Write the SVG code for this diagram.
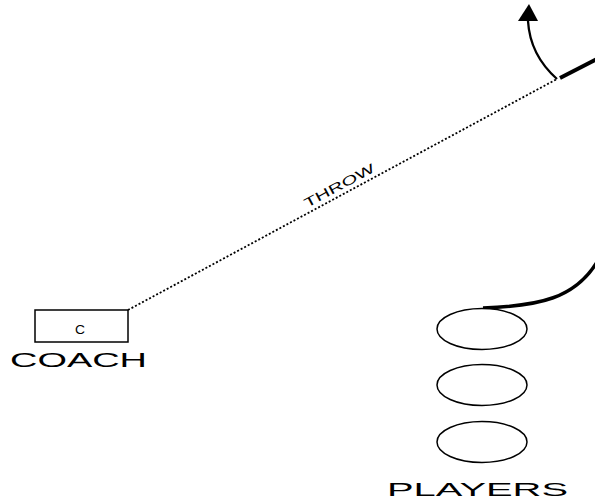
<svg xmlns="http://www.w3.org/2000/svg" width="595" height="499" viewBox="0 0 595 499">
<style>
  .shape { fill: #fff; stroke: #000; stroke-width: 1.5; }
  .lbl { font-family: "Liberation Sans", Arial, sans-serif; fill: #000; }
  .dot { fill: none; stroke: #000; stroke-width: 1.8; stroke-dasharray: 2 2; }
  .thick { fill: none; stroke: #000; stroke-width: 4; stroke-linecap: butt; }
  .run { fill: none; stroke: #000; stroke-width: 2.3; }
</style>
<rect width="595" height="499" fill="#fff"/>
<g id="connectors">
  <line class="dot" x1="128" y1="310" x2="557" y2="79"/>
  <line class="thick" x1="560" y1="78" x2="597" y2="59"/>
  <path class="run" d="M557,79 Q530,55 528,21"/>
  <polygon points="529,4 518,21 538,21" fill="#000"/>
  <path class="thick" style="stroke-width:3.5" d="M483,308 C540,306 575,298 597,262"/>
  <g transform="translate(307,208) rotate(-28.2)">
    <text class="lbl" x="0" y="0" font-size="13" textLength="78" lengthAdjust="spacingAndGlyphs">THROW</text>
  </g>
</g>
<g id="coach">
  <rect class="shape" x="35" y="310" width="93" height="32"/>
  <text class="lbl" x="80" y="334" font-size="12" text-anchor="middle" textLength="10" lengthAdjust="spacingAndGlyphs">C</text>
  <text class="lbl" x="10" y="367" font-size="19.5" textLength="137" lengthAdjust="spacingAndGlyphs">COACH</text>
</g>
<g id="players">
  <ellipse class="shape" cx="482" cy="329" rx="45" ry="20.5"/>
  <ellipse class="shape" cx="482" cy="385" rx="45" ry="20.5"/>
  <ellipse class="shape" cx="482" cy="442" rx="45" ry="20.5"/>
  <text class="lbl" x="387" y="496" font-size="18" textLength="181" lengthAdjust="spacingAndGlyphs">PLAYERS</text>
</g>
</svg>
